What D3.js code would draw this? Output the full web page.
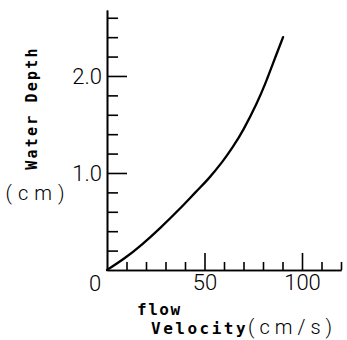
<!DOCTYPE html>
<html>
<head>
<meta charset="utf-8">
<script src="https://cdn.jsdelivr.net/npm/d3@7"></script>
<style>
  body { margin: 0; background: #fff; }
  .thin { font-family: "Liberation Sans Narrow", "Roboto", sans-serif; font-weight: 300; }
  .mono { font-family: "DejaVu Sans Mono", monospace; font-weight: bold; }
</style>
</head>
<body>
<div id="chart"></div>
<script>
// flow velocity (cm/s) and water depth (cm)
var velocity = [0, 9.2, 17.9, 27.2, 37.4, 46.2, 51.3, 59.5, 64.6, 69.7, 77.4, 81.0, 85.1, 90.3];
var depth    = [0, 0.12, 0.26, 0.43, 0.63, 0.82, 0.92, 1.12, 1.27, 1.43, 1.74, 1.91, 2.13, 2.40];

var xMajorTicks = [50, 100];
var xMinorTicks = [10, 20, 30, 40, 60, 70, 80, 90, 110, 120];
var yMajorTicks = [1.0, 2.0];
var yMinorTicks = [0.2, 0.4, 0.6, 0.8, 1.2, 1.4, 1.6, 1.8, 2.2, 2.4, 2.6];
var yTickLabels = ["1.0", "2.0"];

var attrs = {
    svgWidth: 347,
    svgHeight: 340,
    originX: 107,
    originY: 270
};

var svg = d3.select('#chart')
    .append('svg')
    .attr('width', attrs.svgWidth)
    .attr('height', attrs.svgHeight);

var x = d3.scaleLinear().domain([0, 120]).range([attrs.originX, attrs.originX + 234]);
var y = d3.scaleLinear().domain([0, 2.68]).range([attrs.originY, attrs.originY - 260]);

// x axis: ticks point up into the plot
var xMinor = d3.axisBottom(x).tickValues(xMinorTicks).tickSize(-8).tickFormat('').tickSizeOuter(0);
var xMajor = d3.axisBottom(x).tickValues(xMajorTicks).tickSize(-17).tickPadding(4).tickSizeOuter(0);

svg.append('g').attr('class', 'xaxis')
    .attr('transform', 'translate(0,' + attrs.originY + ')')
    .call(xMinor);
svg.append('g').attr('class', 'xaxis xmajor')
    .attr('transform', 'translate(0,' + attrs.originY + ')')
    .call(xMajor);

// y axis: ticks point right into the plot
var yMinor = d3.axisLeft(y).tickValues(yMinorTicks).tickSize(-11).tickFormat('').tickSizeOuter(0);
var yMajor = d3.axisLeft(y).tickValues(yMajorTicks).tickSize(-20).tickPadding(5)
    .tickFormat(function (d, i) { return yTickLabels[i]; }).tickSizeOuter(0);

svg.append('g').attr('class', 'yaxis')
    .attr('transform', 'translate(' + attrs.originX + ',0)')
    .call(yMinor);
svg.append('g').attr('class', 'yaxis ymajor')
    .attr('transform', 'translate(' + attrs.originX + ',0)')
    .call(yMajor);

svg.selectAll('.domain, .tick line')
    .attr('stroke', '#000')
    .attr('stroke-width', 1.6);

svg.selectAll('.tick text')
    .attr('class', 'thin')
    .attr('fill', '#000')
    .style('font-size', '22px');

// shared origin label
svg.append('text')
    .attr('class', 'thin')
    .attr('x', x(0) - 12)
    .attr('y', y(0) + 21)
    .attr('text-anchor', 'middle')
    .style('font-size', '22px')
    .text('0');

// curve
var line = d3.line()
    .curve(d3.curveBasis)
    .x(function (d) { return x(d[0]); })
    .y(function (d) { return y(d[1]); });

svg.append('path')
    .datum(d3.zip(velocity, depth))
    .attr('fill', 'none')
    .attr('stroke', '#000')
    .attr('stroke-width', 2.3)
    .attr('stroke-linecap', 'round')
    .attr('d', line);

// axis titles
svg.append('text')
    .attr('class', 'mono')
    .attr('transform', 'translate(37,108) rotate(-90)')
    .attr('text-anchor', 'middle')
    .style('font-size', '15px')
    .style('letter-spacing', '2.2px')
    .text('Water Depth');

svg.append('text')
    .attr('class', 'thin')
    .attr('x', 38)
    .attr('y', 200)
    .attr('text-anchor', 'middle')
    .style('font-size', '20px')
    .style('letter-spacing', '6px')
    .text('(cm)');

svg.append('text')
    .attr('class', 'mono')
    .attr('x', 137)
    .attr('y', 315)
    .style('font-size', '16px')
    .style('letter-spacing', '1.5px')
    .text('flow');

var vel = svg.append('text')
    .attr('x', 151)
    .attr('y', 334);
vel.append('tspan')
    .attr('class', 'mono')
    .style('font-size', '16px')
    .style('letter-spacing', '2.5px')
    .text('Velocity');
vel.append('tspan')
    .attr('class', 'thin')
    .style('font-size', '20px')
    .style('letter-spacing', '5px')
    .text('(cm/s)');
</script>
</body>
</html>
